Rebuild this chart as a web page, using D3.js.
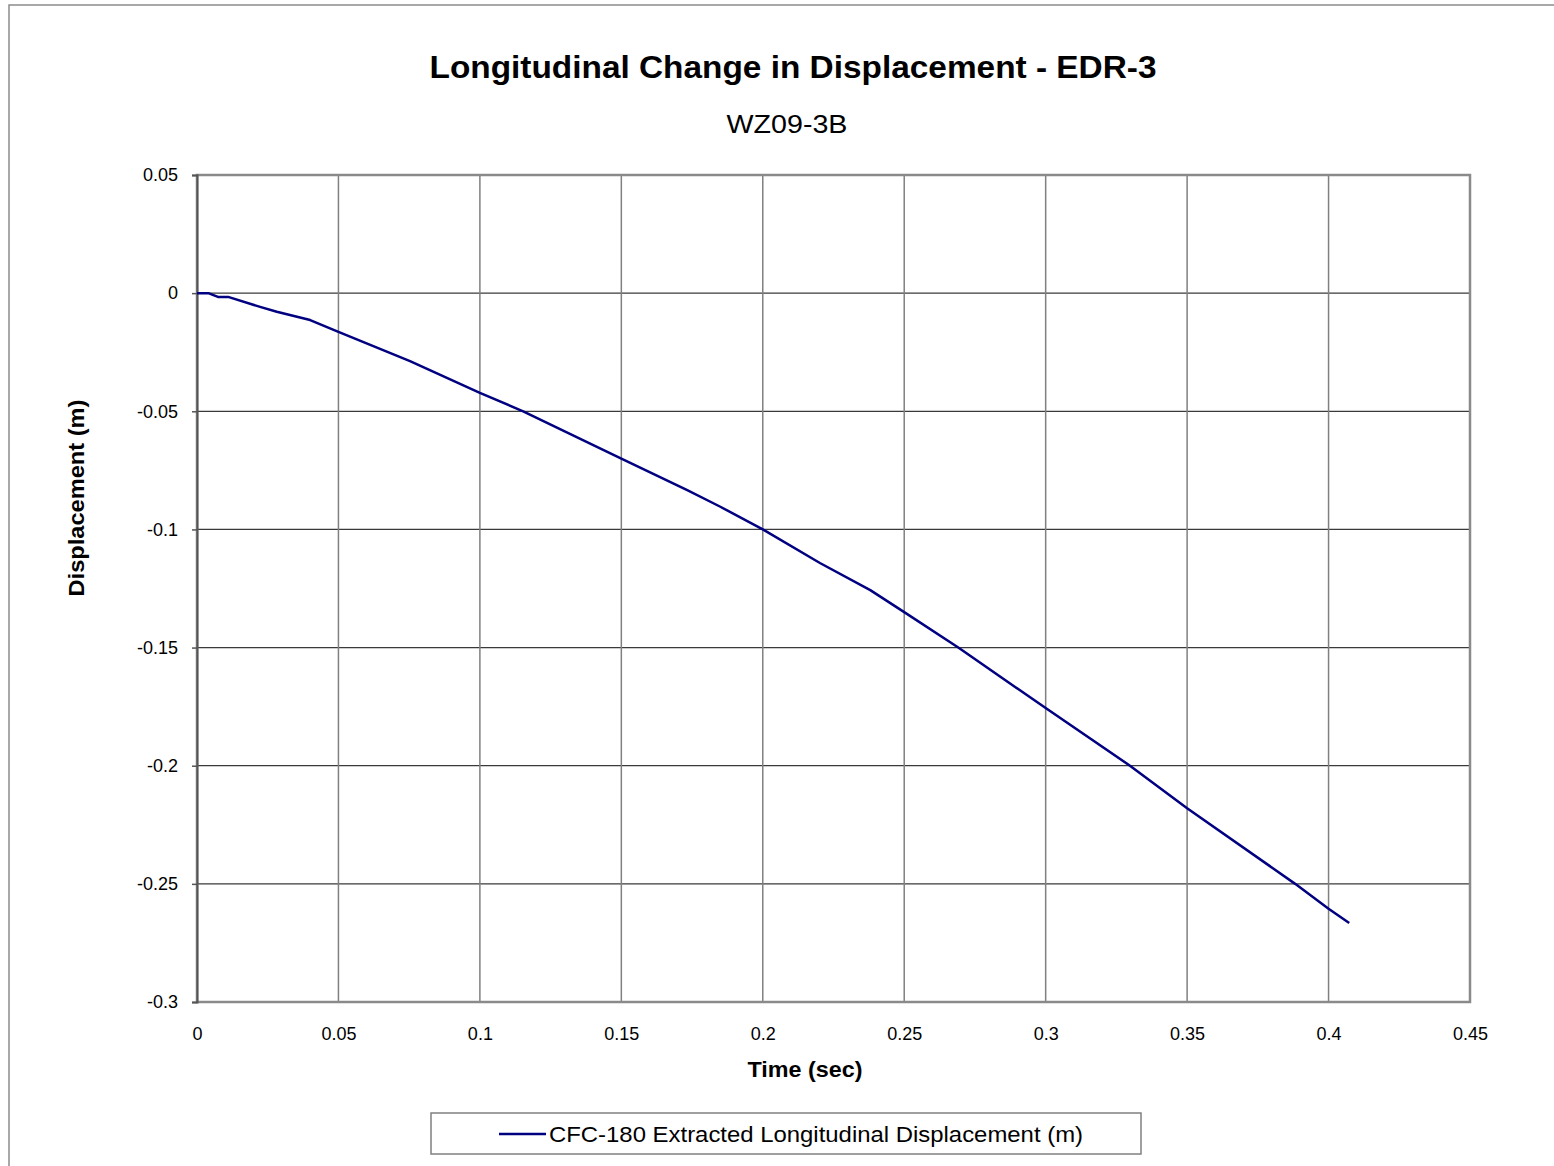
<!DOCTYPE html>
<html lang="en">
<head>
    <meta charset="UTF-8">
    <title>Longitudinal Change in Displacement - EDR-3</title>
    <style>
        body { margin: 0; background: #fff; }
        svg { display: block; font-family: "Liberation Sans", Arial, sans-serif; }
    </style>
</head>
<body>
<script src="https://cdn.jsdelivr.net/npm/d3@7/dist/d3.min.js"></script>
<script>
    var width = 1554;
    var height = 1166;

    // time (sec) and displacement (m)
    var timeSec = [0, 0.004, 0.0074, 0.011, 0.0223, 0.0282, 0.04, 0.05, 0.0753, 0.1,
        0.1153, 0.15, 0.1733, 0.185, 0.2, 0.2202, 0.238, 0.25, 0.2691, 0.3, 0.3298,
        0.35, 0.3882, 0.4, 0.4073];
    var displacement = [0, 0, -0.0016, -0.0016, -0.0058, -0.0079, -0.0114, -0.0164, -0.0288, -0.0422,
        -0.05, -0.07, -0.0834, -0.0904, -0.1, -0.1142, -0.1257, -0.135, -0.15, -0.1756, -0.2,
        -0.218, -0.25, -0.2605, -0.2666];
    var xTicks = [0, 0.05, 0.1, 0.15, 0.2, 0.25, 0.3, 0.35, 0.4, 0.45];
    var yTicks = [0.05, 0, -0.05, -0.1, -0.15, -0.2, -0.25, -0.3];
    var seriesName = "CFC-180 Extracted Longitudinal Displacement (m)";

    var plotL = 197, plotR = 1470, plotT = 175, plotB = 1002;

    var svg = d3.select('body')
        .append('svg')
        .attr('width', width)
        .attr('height', height);

    // outer chart frame
    svg.append('rect')
        .attr('x', 9).attr('y', 5)
        .attr('width', width).attr('height', height)
        .attr('fill', 'none')
        .attr('stroke', '#8c8c8c')
        .attr('stroke-width', 1.5);

    var x = d3.scaleLinear().domain([0, 0.45]).range([plotL, plotR]);
    var y = d3.scaleLinear().domain([-0.3, 0.05]).range([plotB, plotT]);

    var fmt = function (d) { return String(+d.toFixed(2)); };

    // horizontal gridlines
    svg.append('g')
        .selectAll('line')
        .data(yTicks)
        .enter()
        .append('line')
        .attr('x1', plotL).attr('x2', plotR)
        .attr('y1', function (d) { return y(d); })
        .attr('y2', function (d) { return y(d); })
        .attr('stroke', '#3a3a3a')
        .attr('stroke-width', 1.2);

    // vertical gridlines
    svg.append('g')
        .selectAll('line')
        .data(xTicks)
        .enter()
        .append('line')
        .attr('x1', function (d) { return x(d); })
        .attr('x2', function (d) { return x(d); })
        .attr('y1', plotT).attr('y2', plotB)
        .attr('stroke', '#808080')
        .attr('stroke-width', 1.5);

    // plot border
    svg.append('rect')
        .attr('x', plotL).attr('y', plotT)
        .attr('width', plotR - plotL).attr('height', plotB - plotT)
        .attr('fill', 'none')
        .attr('stroke', '#8a8a8a')
        .attr('stroke-width', 2.5);

    // y axis
    var yAxis = svg.append('g')
        .attr('transform', 'translate(' + plotL + ',0)')
        .call(d3.axisLeft(y).tickValues(yTicks).tickFormat(fmt).tickSize(5).tickPadding(14));
    yAxis.select('.domain').attr('stroke', '#555').attr('stroke-width', 2);
    yAxis.selectAll('.tick line').attr('stroke', '#555').attr('stroke-width', 1.5);
    yAxis.attr('font-size', 18).attr('font-family', '"Liberation Sans", Arial, sans-serif');
    yAxis.selectAll('text').attr('fill', '#000');

    // x axis
    var xAxis = svg.append('g')
        .attr('transform', 'translate(0,' + plotB + ')')
        .call(d3.axisBottom(x).tickValues(xTicks).tickFormat(fmt).tickSize(0).tickPadding(25));
    xAxis.select('.domain').remove();
    xAxis.attr('font-size', 18).attr('font-family', '"Liberation Sans", Arial, sans-serif');
    xAxis.selectAll('text').attr('fill', '#000');

    // the series
    var points = timeSec.map(function (t, i) { return [t, displacement[i]]; });
    var line = d3.line()
        .x(function (d) { return x(d[0]); })
        .y(function (d) { return y(d[1]); });

    svg.append('path')
        .datum(points)
        .attr('d', line)
        .attr('fill', 'none')
        .attr('stroke', '#000080')
        .attr('stroke-width', 2.5)
        .attr('stroke-linejoin', 'round');

    // titles
    svg.append('text')
        .attr('x', 793).attr('y', 78)
        .attr('text-anchor', 'middle')
        .attr('font-size', '32px')
        .attr('font-weight', 'bold')
        .attr('textLength', 727).attr('lengthAdjust', 'spacingAndGlyphs')
        .text('Longitudinal Change in Displacement - EDR-3');

    svg.append('text')
        .attr('x', 787).attr('y', 133)
        .attr('text-anchor', 'middle')
        .attr('font-size', '25px')
        .attr('textLength', 121).attr('lengthAdjust', 'spacingAndGlyphs')
        .text('WZ09-3B');

    svg.append('text')
        .attr('x', 805).attr('y', 1077)
        .attr('text-anchor', 'middle')
        .attr('font-size', '22px')
        .attr('font-weight', 'bold')
        .attr('textLength', 115).attr('lengthAdjust', 'spacingAndGlyphs')
        .text('Time (sec)');

    svg.append('text')
        .attr('transform', 'translate(84,498) rotate(-90)')
        .attr('text-anchor', 'middle')
        .attr('font-size', '22px')
        .attr('font-weight', 'bold')
        .attr('textLength', 197).attr('lengthAdjust', 'spacingAndGlyphs')
        .text('Displacement (m)');

    // legend
    var legend = svg.append('g');
    legend.append('rect')
        .attr('x', 431).attr('y', 1113)
        .attr('width', 710).attr('height', 41)
        .attr('fill', '#fff')
        .attr('stroke', '#808080')
        .attr('stroke-width', 1.5);
    legend.append('line')
        .attr('x1', 499).attr('x2', 546)
        .attr('y1', 1134).attr('y2', 1134)
        .attr('stroke', '#000080')
        .attr('stroke-width', 2.5);
    legend.append('text')
        .attr('x', 549).attr('y', 1142)
        .attr('font-size', '22px')
        .attr('textLength', 534).attr('lengthAdjust', 'spacingAndGlyphs')
        .text(seriesName);
</script>
</body>
</html>
